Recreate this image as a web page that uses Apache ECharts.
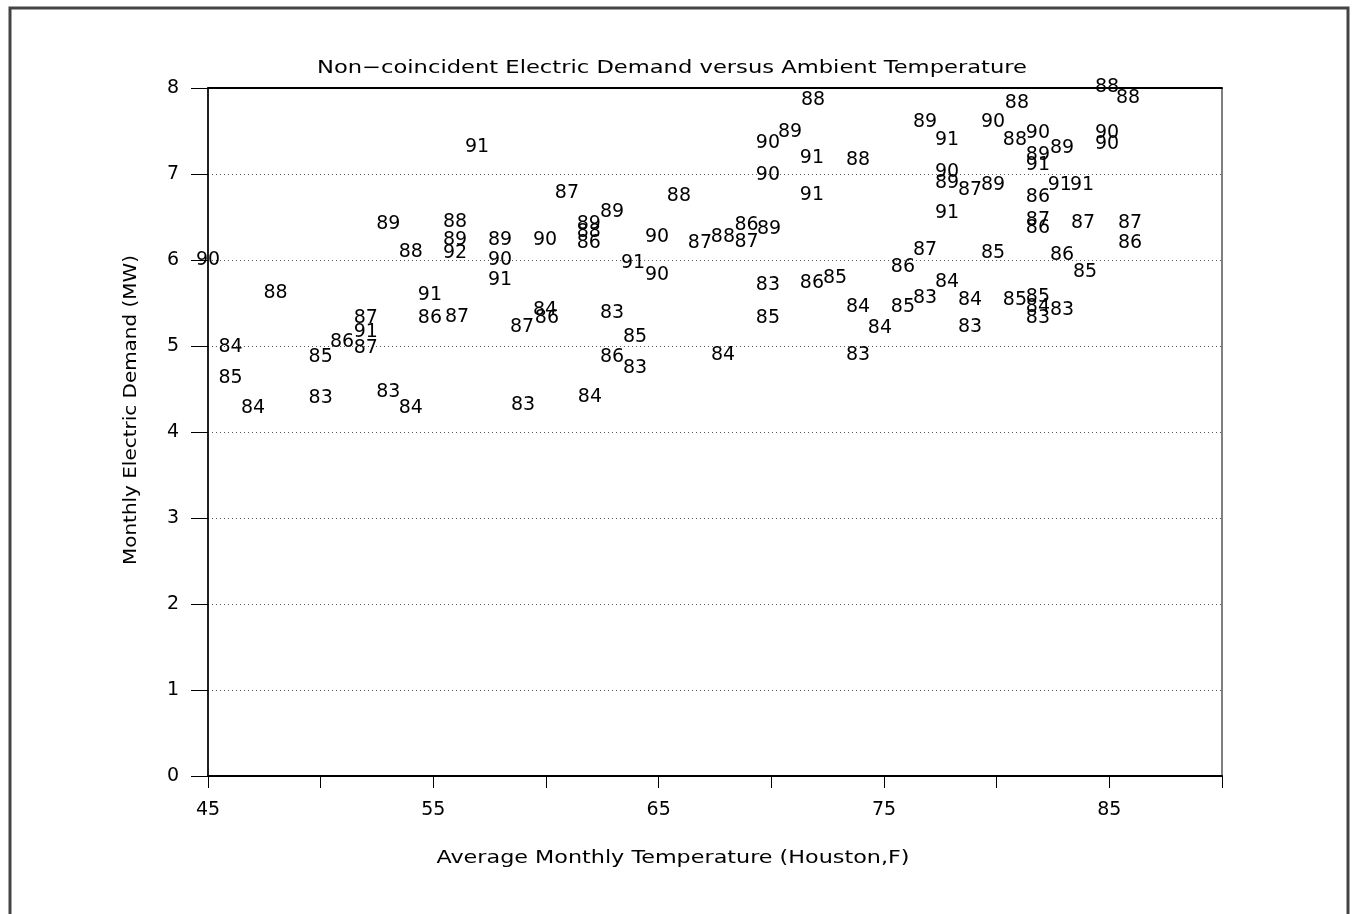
<!DOCTYPE html>
<html>
<head>
<meta charset="utf-8">
<script src="https://cdn.jsdelivr.net/npm/echarts@6/dist/echarts.min.js"></script>
<style>
html,body{margin:0;padding:0;background:#fff;}
#chart{width:1353px;height:914px;}
</style>
</head>
<body>
<div id="chart"></div>
<script>
// ---- data ----
const titleText = 'Non\u2212coincident Electric Demand versus Ambient Temperature';
const xAxisName = 'Average Monthly Temperature (Houston,F)';
const yAxisName = 'Monthly Electric Demand (MW)';
const xTickLabels = [45, 55, 65, 75, 85];
const yTickLabels = [0, 1, 2, 3, 4, 5, 6, 7, 8];

// point label (year), average monthly temperature (F), demand (MW)
const yearLabels = [
  '90','88','84','85','84','85','86','87','91','87',
  '83','83','84','88','91','86','89','91','87','88',
  '88','89','92','89','90','91','90','89','88','86',
  '89','90','91','90','87','87','84','86','83','85',
  '86','83','84','83','88','90','89','91','88','90',
  '91','87','88','86','87','89','83','86','85','84',
  '85','84','84','83','86','85','88','88','88','89',
  '91','90','88','90','89','89','91','90','90','90',
  '89','87','89','86','91','91','91','87','86','87',
  '87','86','87','85','86','85','84','83','84','85',
  '85','84','83','83','83'
];
const temperatures = [
  45.0, 48.0, 46.0, 46.0, 47.0, 50.0, 50.95, 52.0, 52.0, 52.0,
  50.0, 53.0, 54.0, 54.0, 54.85, 54.85, 53.0, 56.94, 60.93, 65.9,
  55.96, 55.96, 55.96, 57.96, 57.96, 57.96, 59.96, 61.9, 61.9, 61.9,
  62.93, 64.93, 63.86, 64.93, 56.05, 58.94, 59.96, 60.04, 62.93, 63.95,
  62.93, 63.95, 61.95, 58.98, 71.85, 69.85, 70.83, 71.8, 73.85, 69.85,
  71.8, 66.83, 67.85, 68.9, 68.9, 69.9, 69.85, 71.8, 72.83, 73.85,
  69.85, 74.82, 67.86, 73.85, 75.84, 75.84, 84.9, 85.83, 80.9, 76.82,
  77.8, 79.84, 80.81, 81.83, 82.9, 81.83, 81.83, 84.9, 84.9, 77.8,
  77.8, 78.82, 79.84, 81.83, 82.8, 83.79, 77.8, 81.83, 81.83, 83.83,
  85.92, 85.92, 76.82, 79.84, 82.9, 83.92, 77.8, 76.82, 78.82, 80.81,
  81.83, 81.83, 81.83, 82.9, 78.82
];
const demands = [
  6.00, 5.62, 4.99, 4.63, 4.28, 4.87, 5.05, 5.33, 5.16, 4.98,
  4.40, 4.47, 4.28, 6.09, 5.59, 5.33, 6.42, 7.31, 6.78, 6.74,
  6.44, 6.23, 6.08, 6.23, 6.00, 5.77, 6.23, 6.42, 6.32, 6.20,
  6.56, 6.27, 5.97, 5.83, 5.34, 5.22, 5.42, 5.33, 5.38, 5.10,
  4.87, 4.74, 4.41, 4.31, 7.86, 7.36, 7.49, 7.19, 7.16, 6.99,
  6.76, 6.20, 6.27, 6.41, 6.21, 6.36, 5.71, 5.73, 5.79, 5.45,
  5.33, 5.21, 4.90, 4.90, 5.92, 5.45, 8.01, 7.88, 7.83, 7.60,
  7.40, 7.60, 7.40, 7.48, 7.30, 7.22, 7.10, 7.48, 7.35, 7.02,
  6.90, 6.81, 6.87, 6.73, 6.87, 6.87, 6.55, 6.47, 6.37, 6.43,
  6.43, 6.20, 6.12, 6.08, 6.06, 5.86, 5.74, 5.56, 5.53, 5.53,
  5.57, 5.45, 5.33, 5.42, 5.22
];

// ---- chart ----
const FONT = '"DejaVu Sans", "Liberation Sans", sans-serif';
const points = temperatures.map((t, i) => ({ value: [t, demands[i]], name: yearLabels[i] }));

function measure(text, size) {
  const c = document.createElement('canvas').getContext('2d');
  c.font = size + 'px "DejaVu Sans"';
  return c.measureText(text).width;
}
function stretchedText(text, cx, cy, size, targetWidth, rotation) {
  return {
    type: 'text', x: cx, y: cy, rotation: rotation || 0,
    scaleX: targetWidth / measure(text, size),
    style: { text: text, fontSize: size, fontFamily: FONT, fill: '#000',
             align: 'center', verticalAlign: 'middle' },
    silent: true
  };
}

const chart = echarts.init(document.getElementById('chart'), null, { renderer: 'canvas' });
chart.setOption({
  animation: false,
  backgroundColor: '#fff',
  grid: { left: 208, right: 131, top: 88, bottom: 138, show: true, borderColor: '#000', borderWidth: 1 },
  xAxis: [{
    type: 'value', min: 45, max: 90, interval: 5,
    axisLine: { show: true, lineStyle: { color: '#000', width: 2 } },
    axisTick: { show: true, length: 12, lineStyle: { color: '#000', width: 1 } },
    axisLabel: {
      margin: 25, color: '#000', fontSize: 19, fontFamily: FONT,
      formatter: v => (xTickLabels.indexOf(v) >= 0 ? String(v) : '')
    },
    splitLine: { show: false }
  }, {
    type: 'value', position: 'top', min: 45, max: 90,
    axisLine: { show: true, lineStyle: { color: '#000', width: 2 } },
    axisTick: { show: false }, axisLabel: { show: false }, splitLine: { show: false }
  }],
  yAxis: {
    type: 'value', min: 0, max: 8, interval: 1,
    axisLine: { show: true, lineStyle: { color: '#000', width: 1.5 } },
    axisTick: { show: true, length: 17, lineStyle: { color: '#000', width: 1 } },
    axisLabel: {
      margin: 29, color: '#000', fontSize: 19, fontFamily: FONT,
      formatter: v => (yTickLabels.indexOf(v) >= 0 ? String(v) : '')
    },
    splitLine: { show: true, lineStyle: { color: '#555', width: 1, type: [1, 3] } }
  },
  series: [{
    type: 'scatter',
    xAxisIndex: 0,
    data: points,
    symbolSize: 1,
    itemStyle: { color: 'rgba(0,0,0,0)', opacity: 1 },
    clip: false,
    label: {
      show: true, position: 'inside', formatter: p => p.name,
      color: '#000', fontSize: 19, fontFamily: FONT, fontWeight: 'normal',
      textBorderWidth: 0, opacity: 1
    },
    labelLayout: { hideOverlap: false }
  }],
  graphic: [
    { type: 'rect', shape: { x: 10, y: 8, width: 1338, height: 1000 },
      style: { fill: 'none', stroke: '#444', lineWidth: 3 }, silent: true },
    stretchedText(titleText, 672, 68, 18, 710),
    stretchedText(xAxisName, 673, 858, 18, 473),
    stretchedText(yAxisName, 131, 410, 18, 310, Math.PI / 2)
  ]
});
</script>
</body>
</html>
